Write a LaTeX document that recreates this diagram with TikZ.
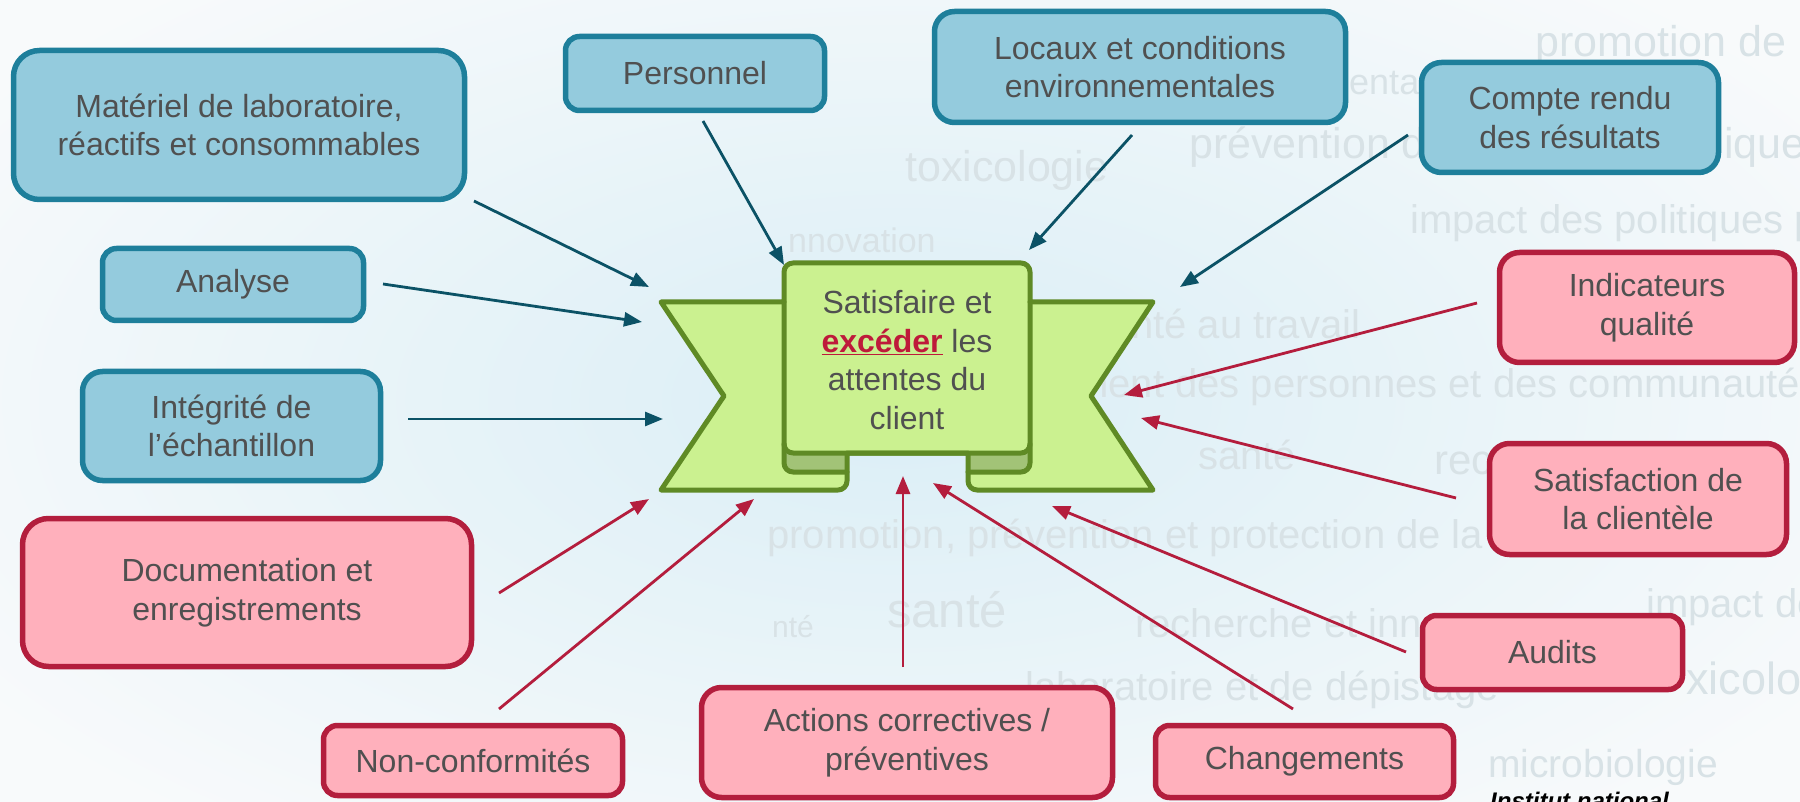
\documentclass[tikz,border=0pt]{standalone}
\usepackage{fontspec}
\setmainfont{Liberation Sans}
\usetikzlibrary{arrows.meta}
\definecolor{bfill}{HTML}{94CBDD}
\definecolor{bdraw}{HTML}{1E7F9B}
\definecolor{pfill}{HTML}{FFB0BC}
\definecolor{pdraw}{HTML}{B31E3D}
\definecolor{tealA}{HTML}{0B5266}
\definecolor{redA}{HTML}{B41D3D}
\definecolor{gfill}{HTML}{CBF190}
\definecolor{gdark}{HTML}{A2C377}
\definecolor{gdraw}{HTML}{5F8A25}
\definecolor{txt}{HTML}{505050}
\definecolor{wm}{HTML}{D8E2E6}
\definecolor{bgA}{HTML}{F8FAFB}
\definecolor{bgB}{HTML}{DAEEF6}
\definecolor{exc}{HTML}{BE1A3A}
\begin{document}
\begin{tikzpicture}[x=1pt,y=-1pt,
  box/.style={rounded corners=#1pt, line width=5.5pt, inner sep=0pt, align=center, text=txt, font=\fontsize{32}{38.5}\selectfont},
  bbox/.style={box=#1, fill=bfill, draw=bdraw},
  pbox/.style={box=#1, fill=pfill, draw=pdraw},
  tarr/.style={draw=tealA, line width=2.8pt, -{Triangle[length=18pt,width=14pt]}},
  rarr/.style={draw=redA, line width=2.8pt, -{Triangle[length=18pt,width=14pt]}},
  wmk/.style={text=wm, inner sep=0pt, anchor=west, font=\fontsize{#1}{#1}\selectfont},
  gline/.style={draw=gdraw, line width=5pt, line join=round, line cap=round},
]
\useasboundingbox (0,0) rectangle (1800,802);
\clip (0,0) rectangle (1800,802);
\shade[inner color=bgB, outer color=bgA] (-200,-150) rectangle (2000,950);

% watermark texts
\node[wmk=43] (w1) at (1535,45) {promotion de};
\node[wmk=36] (w2) at (1349,83) {enta};
\node[wmk=43] (w3) at (1189,147) {prévention de};
\node[wmk=43] (w4) at (1724,147) {iques};
\node[wmk=40] (w5) at (1410,223) {impact des politiques p};
\node[wmk=43] (w6) at (905,170) {toxicologie};
\node[wmk=34] (w7) at (788,240) {nnovation};
\node[wmk=40] (w8) at (1131,324) {nté au travail};
\node[wmk=40] (w9) at (1075,387) {ment des personnes et des communautés};
\node[wmk=40] (w10) at (1198,455) {santé};
\node[wmk=42] (w11) at (1434,463) {rec};
\node[wmk=40] (w12) at (767,538) {promotion, prévention et protection de la};
\node[wmk=49] (w13) at (887,610) {santé};
\node[wmk=30] (w14) at (772,627) {nté};
\node[wmk=40] (w15) at (1135,623) {recherche et inn};
\node[wmk=40] (w16) at (1646,607) {impact des};
\node[wmk=45] (w17) at (1686,683) {xicologie};
\node[wmk=40] (w18) at (1025,690) {laboratoire et de dépistage};
\node[wmk=39] (w19) at (1488,767) {microbiologie};
\node[anchor=base west, inner sep=0pt, font=\fontsize{24}{24}\selectfont\bfseries\itshape] (inst) at (1490,809) {Institut national};

% banner
\fill[gfill] (793,263) -- (1021,263) .. controls (1026,263) and (1030,267) .. (1030,272) -- (1030,302) -- (1153,302) -- (1091,396) -- (1153,490) -- (977,490) .. controls (972,490) and (968,486) .. (968,481) -- (968,453) -- (847,453) -- (847,481) .. controls (847,486) and (843,490) .. (838,490) -- (661,490) -- (724,396) -- (661,302) -- (784,302) -- (784,272) .. controls (784,267) and (788,263) .. (793,263) -- cycle;
\fill[gdark] (784,453) -- (847,453) -- (847,472) -- (793,472) .. controls (788,472) and (784,468) .. (784,463) -- cycle;
\fill[gdark] (968,453) -- (1030,453) -- (1030,463) .. controls (1030,468) and (1026,472) .. (1021,472) -- (968,472) -- cycle;
\draw[gline] (793,263) -- (1021,263) .. controls (1026,263) and (1030,267) .. (1030,272) -- (1030,302) -- (1153,302) -- (1091,396) -- (1153,490) -- (977,490) .. controls (972,490) and (968,486) .. (968,481) -- (968,453) -- (847,453) -- (847,481) .. controls (847,486) and (843,490) .. (838,490) -- (661,490) -- (724,396) -- (661,302) -- (784,302) -- (784,272) .. controls (784,267) and (788,263) .. (793,263) -- cycle;
\draw[gline] (784,302) -- (784,463) .. controls (784,468) and (788,472) .. (793,472) -- (847,472);
\draw[gline] (1030,302) -- (1030,463) .. controls (1030,468) and (1026,472) .. (1021,472) -- (968,472);
\draw[gline] (784,444) .. controls (784,449) and (788,453) .. (793,453) -- (1021,453) .. controls (1026,453) and (1030,449) .. (1030,444);
\node[align=center, text=txt, inner sep=0pt, font=\fontsize{32}{38.5}\selectfont] (ctr) at (907,360) {Satisfaire et\\\textcolor{exc}{\textbf{\underline{excéder}}} les\\attentes du\\client};

% boxes
\node[bbox=26, minimum width=451pt, minimum height=149pt] (mat) at (239,125) {Matériel de laboratoire,\\réactifs et consommables};
\node[bbox=14, minimum width=259pt, minimum height=74pt] (pers) at (695,73.5) {Personnel};
\node[bbox=20, minimum width=411pt, minimum height=111pt] (loc) at (1140,67) {Locaux et conditions\\environnementales};
\node[bbox=20, minimum width=297pt, minimum height=110pt] (cr) at (1570,117.5) {Compte rendu\\des résultats};
\node[bbox=14, minimum width=261pt, minimum height=72pt] (ana) at (233,284.5) {Analyse};
\node[bbox=20, minimum width=298pt, minimum height=109pt] (integ) at (231.5,426) {Intégrité de\\l’échantillon};
\node[pbox=20, minimum width=295pt, minimum height=110pt] (ind) at (1647,307.5) {Indicateurs\\qualité};
\node[pbox=20, minimum width=297pt, minimum height=111pt] (sat) at (1638,499) {Satisfaction de\\la clientèle};
\node[pbox=14, minimum width=260pt, minimum height=74pt] (aud) at (1552.5,652.5) {Audits};
\node[pbox=26, minimum width=449pt, minimum height=148pt] (doc) at (247,592.5) {Documentation et\\enregistrements};
\node[pbox=14, minimum width=299pt, minimum height=70pt] (nc) at (473,760.5) {Non-conformités};
\node[pbox=20, minimum width=411pt, minimum height=110pt] (act) at (907,742.5) {Actions correctives /\\préventives};
\node[pbox=14, minimum width=298pt, minimum height=72pt] (chg) at (1304.5,761.5) {Changements};

% arrow end points
\coordinate (mat-o) at (474,201);   \coordinate (mat-i) at (649,287);
\coordinate (pers-o) at (703,121);  \coordinate (pers-i) at (784,265);
\coordinate (loc-o) at (1132,135);  \coordinate (loc-i) at (1029,250);
\coordinate (cr-o) at (1408,135);   \coordinate (cr-i) at (1180,287);
\coordinate (ana-o) at (383,284);   \coordinate (ana-i) at (642,322);
\coordinate (integ-o) at (408,419); \coordinate (integ-i) at (663,419);
\coordinate (ind-o) at (1477,303);  \coordinate (ind-i) at (1124,395);
\coordinate (sat-o) at (1456,498);  \coordinate (sat-i) at (1141,418);
\coordinate (aud-o) at (1406,652);  \coordinate (aud-i) at (1052,506);
\coordinate (chg-o) at (1293,709);  \coordinate (chg-i) at (933,483);
\coordinate (act-o) at (903,667);   \coordinate (act-i) at (903,476);
\coordinate (nc-o) at (499,709);    \coordinate (nc-i) at (754,499);
\coordinate (doc-o) at (499,593);   \coordinate (doc-i) at (649,499);

\draw[tarr] (mat-o) -- (mat-i);
\draw[tarr] (pers-o) -- (pers-i);
\draw[tarr] (loc-o) -- (loc-i);
\draw[tarr] (cr-o) -- (cr-i);
\draw[tarr] (ana-o) -- (ana-i);
\draw[tarr] (integ-o) -- (integ-i);
\draw[rarr] (ind-o) -- (ind-i);
\draw[rarr] (sat-o) -- (sat-i);
\draw[rarr] (aud-o) -- (aud-i);
\draw[rarr] (chg-o) -- (chg-i);
\draw[rarr] (act-o) -- (act-i);
\draw[rarr] (nc-o) -- (nc-i);
\draw[rarr] (doc-o) -- (doc-i);
\end{tikzpicture}
\end{document}
